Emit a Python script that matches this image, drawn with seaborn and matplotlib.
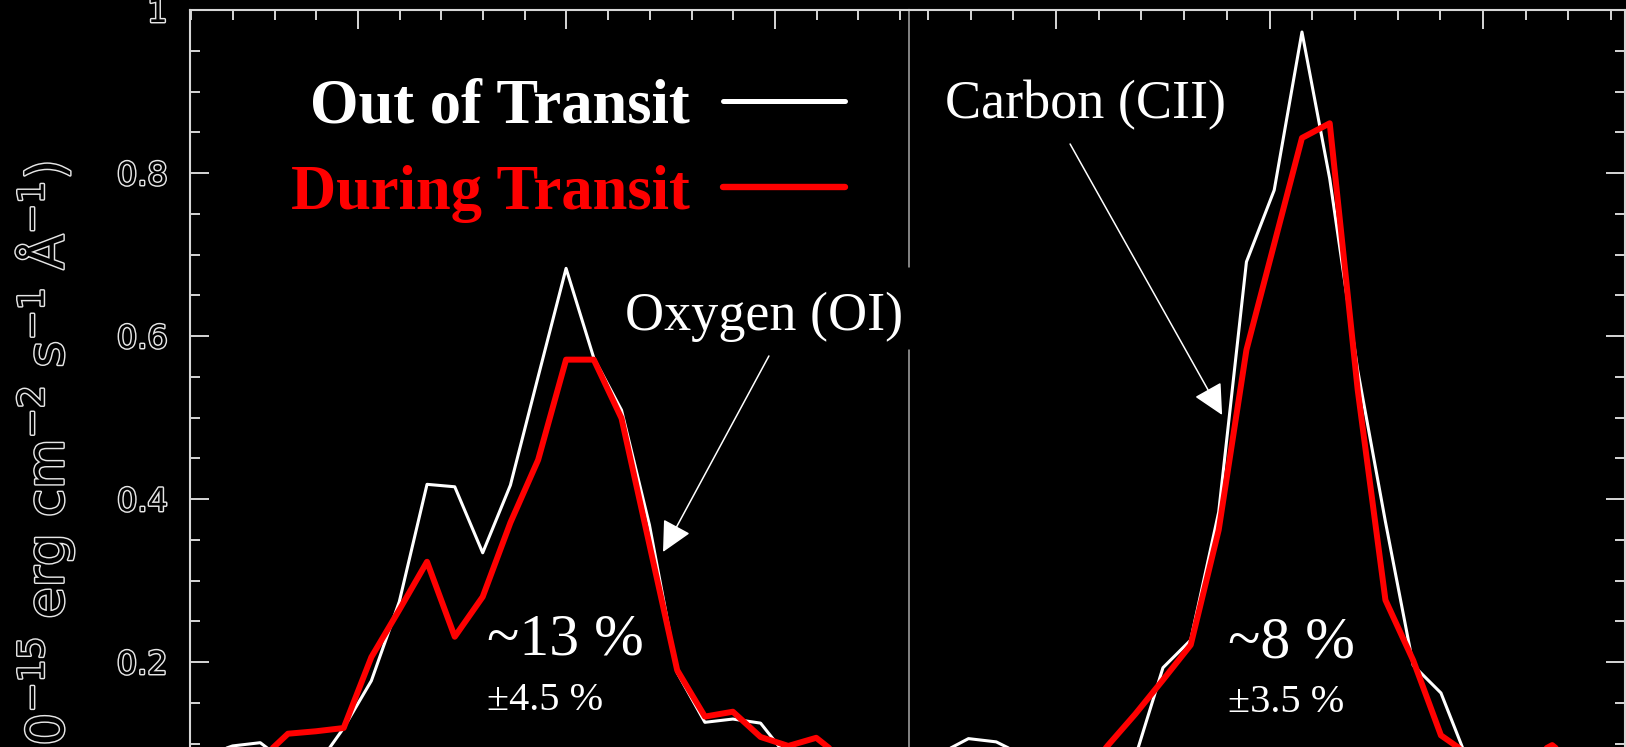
import matplotlib
matplotlib.use("Agg")
import matplotlib.pyplot as plt
import matplotlib.patheffects as pe
from matplotlib.ticker import MultipleLocator
import seaborn as sns

# O I 1304 Å emission: wavelength (Å) and flux (1e-15 erg cm^-2 s^-1 Å^-1)
oi_wave = [1303.131, 1303.264, 1303.398, 1303.531, 1303.664, 1303.798, 1303.931,
           1304.064, 1304.198, 1304.331, 1304.464, 1304.598, 1304.731, 1304.864,
           1304.998, 1305.131, 1305.264, 1305.398, 1305.531, 1305.664, 1305.798,
           1305.931, 1306.064, 1306.198, 1306.331, 1306.464, 1306.598, 1306.731]
oi_out = [0.070, 0.085, 0.097, 0.101, 0.075, 0.071, 0.119,
          0.177, 0.274, 0.418, 0.415, 0.334, 0.417, 0.550,
          0.683, 0.573, 0.509, 0.368, 0.187, 0.126, 0.130,
          0.125, 0.082, 0.068, 0.065, 0.070, 0.068, 0.068]
oi_in = [0.060, 0.065, 0.070, 0.080, 0.112, 0.115, 0.119,
         0.206, 0.264, 0.323, 0.231, 0.280, 0.371, 0.448,
         0.571, 0.571, 0.499, 0.344, 0.190, 0.133, 0.139,
         0.108, 0.097, 0.107, 0.080, 0.070, 0.070, 0.070]

# C II 1335 Å emission
cii_wave = [1333.199, 1333.329, 1333.460, 1333.590, 1333.720, 1333.850, 1333.980,
            1334.111, 1334.241, 1334.371, 1334.501, 1334.631, 1334.762, 1334.892,
            1335.022, 1335.152, 1335.282, 1335.413, 1335.543, 1335.673, 1335.803,
            1335.934, 1336.064, 1336.194, 1336.324, 1336.454, 1336.585, 1336.715]
cii_out = [0.070, 0.075, 0.088, 0.106, 0.102, 0.085, 0.080,
           0.075, 0.070, 0.083, 0.193, 0.227, 0.384, 0.691,
           0.779, 0.973, 0.793, 0.558, 0.372, 0.196, 0.162,
           0.075, 0.070, 0.070, 0.070, 0.070, 0.070, 0.070]
cii_in = [0.050, 0.050, 0.050, 0.052, 0.055, 0.055, 0.055,
          0.055, 0.097, 0.136, 0.178, 0.221, 0.362, 0.583,
          0.713, 0.843, 0.861, 0.534, 0.276, 0.202, 0.110,
          0.086, 0.070, 0.080, 0.098, 0.070, 0.060, 0.060]

series_labels = ["Out of Transit", "During Transit"]
series_colors = ["#ffffff", "#ff0000"]
series_widths = [2.2, 4.3]

line_names = ["Oxygen (OI)", "Carbon (CII)"]
depth_labels = ["~13 %", "~8 %"]
error_labels = ["±4.5 %", "±3.5 %"]

y_ticks = [0.2, 0.4, 0.6, 0.8, 1.0]
y_tick_labels = ["0.2", "0.4", "0.6", "0.8", "1"]
y_label = r"(10$^{-15}$ erg cm$^{-2}$ s$^{-1}$ Å$^{-1}$)"

sns.set_theme(style="dark")
plt.rcParams.update({
    "figure.facecolor": "black",
    "axes.facecolor": "black",
    "savefig.facecolor": "black",
    "axes.grid": False,
    "font.family": ["DejaVu Sans"],
    "mathtext.fontset": "dejavusans",
})

W, H = 1626, 747
fig = plt.figure(figsize=(W / 100, H / 100), dpi=100)


def panel_rect(left, right, top=10, zero=825):
    return [left / W, (H - zero) / H, (right - left) / W, (zero - top) / H]


ax_o = fig.add_axes(panel_rect(190, 909))
ax_c = fig.add_axes(panel_rect(909, 1625))
ax_c.patch.set_alpha(0)

panels = [
    (ax_o, oi_wave, oi_out, oi_in, (1303.194, 1306.643)),
    (ax_c, cii_wave, cii_out, cii_in, (1333.3115, 1336.665)),
]

axis_grey = "#d6d6d6"
hollow = [pe.withStroke(linewidth=2.1, foreground="#e6e6e6")]

for i, (ax, wave, f_out, f_in, xlim) in enumerate(panels):
    for flux, lab, col, lw in zip([f_out, f_in], series_labels, series_colors, series_widths):
        sns.lineplot(x=wave, y=flux, ax=ax, color=col, linewidth=lw,
                     estimator=None, sort=False,
                     label=lab if i == 0 else None, legend=False)
    ax.set_xlim(*xlim)
    ax.set_ylim(0, 1.0)
    ax.set_xlabel("")
    ax.set_ylabel("")
    ax.grid(False)
    ax.xaxis.set_major_locator(MultipleLocator(1.0))
    ax.xaxis.set_minor_locator(MultipleLocator(0.2))
    ax.set_yticks(y_ticks, labels=y_tick_labels)
    ax.yaxis.set_minor_locator(MultipleLocator(0.05))
    ax.tick_params(axis="both", which="both", direction="in", color=axis_grey, width=1.4)
    ax.tick_params(axis="both", which="major", length=14)
    ax.tick_params(axis="both", which="minor", length=7)
    ax.tick_params(axis="x", which="both", top=True, bottom=True,
                   labelbottom=False, labeltop=False)
    for side in ["top", "bottom", "left", "right"]:
        ax.spines[side].set_color(axis_grey)
        ax.spines[side].set_linewidth(1.5)
    ax.spines["bottom"].set_visible(False)

ax_o.spines["right"].set_visible(False)
ax_o.tick_params(axis="y", which="both", left=True, right=False,
                 labelleft=True, labelright=False, pad=16,
                 labelsize=23, labelcolor="black")
for lbl in ax_o.get_yticklabels():
    lbl.set_path_effects(hollow)

ax_c.spines["left"].set_visible(False)
ax_c.tick_params(axis="y", which="both", left=False, right=True,
                 labelleft=False, labelright=False)

# divider between the two lines, interrupted behind the oxygen label
div_x = panels[0][4][1]
ax_o.axvline(div_x, ymin=0.0, ymax=0.583, color="#a8a8a8", lw=1.1, clip_on=False)
ax_o.axvline(div_x, ymin=0.685, ymax=1.0, color="#a8a8a8", lw=1.1, clip_on=False)

# flux axis title
ax_o.text(-0.2017, 0.8135, y_label, transform=ax_o.transAxes, rotation=90,
          ha="center", va="top", fontsize=37, color="black", path_effects=hollow)

# legend with labels in front of the line samples
leg = ax_o.legend(loc="upper right", bbox_to_anchor=(0.911, 0.916), frameon=False,
                  markerfirst=False, handlelength=1.96, handletextpad=0.53,
                  labelspacing=0.45, borderaxespad=0, borderpad=0,
                  prop={"family": "Liberation Serif", "weight": "bold", "size": 45})
for txt, col in zip(leg.get_texts(), series_colors):
    txt.set_color(col)
for ln, lw in zip(leg.get_lines(), [3.6, 4.6]):
    ln.set_linewidth(lw)

serif = "Liberation Serif"
ax_o.text(1305.281, 0.6074, line_names[0], ha="left", va="baseline",
          fontsize=39, family=serif, color="white")
ax_c.text(1333.480, 0.8675, line_names[1], ha="left", va="baseline",
          fontsize=39, family=serif, color="white")

arrow = dict(arrowstyle="-|>,head_length=1.9,head_width=0.95", color="white",
             lw=1.1, shrinkA=0, shrinkB=0, mutation_scale=10)
ax_o.annotate("", xy=(1305.463, 0.335), xytext=(1305.971, 0.5755), arrowprops=arrow)
ax_c.annotate("", xy=(1334.778, 0.5031), xytext=(1334.066, 0.8356), arrowprops=arrow)

for ax, x0, y_d, y_e, dtxt, etxt in [
    (ax_o, 1304.619, 0.2086, 0.1411, depth_labels[0], error_labels[0]),
    (ax_c, 1334.805, 0.2061, 0.1387, depth_labels[1], error_labels[1]),
]:
    ax.text(x0, y_d, dtxt, ha="left", va="baseline", fontsize=43, family=serif, color="white")
    ax.text(x0, y_e, etxt, ha="left", va="baseline", fontsize=29, family=serif, color="white")

fig.savefig("out.png", dpi=100, facecolor="black")
